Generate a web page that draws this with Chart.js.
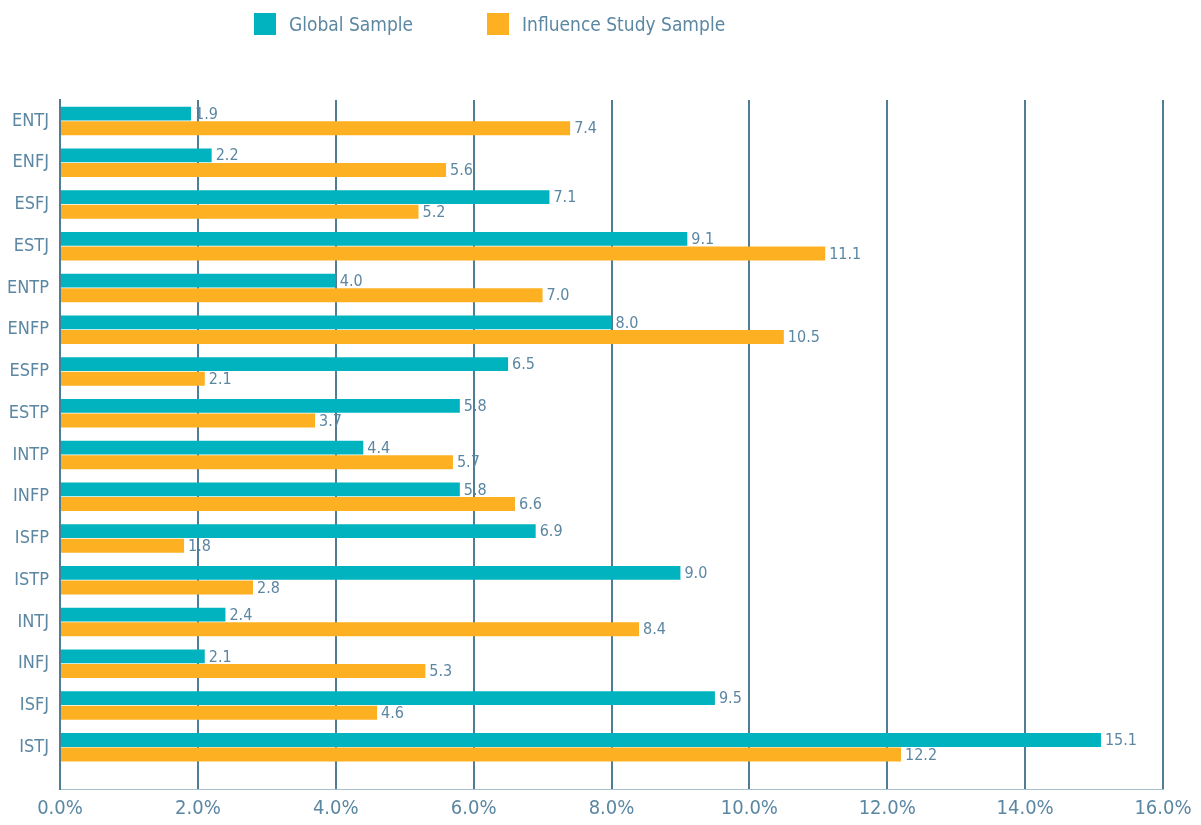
<!DOCTYPE html>
<html>
<head>
<meta charset="utf-8">
<script src="https://cdn.jsdelivr.net/npm/chart.js@4.4.1/dist/chart.umd.min.js"></script>
<style>
  body { margin: 0; background: #fff; }
  #wrap { position: relative; width: 1201px; height: 825px; }
  #legend { position: absolute; top: 13px; left: 254px; display: flex; align-items: center;
            font-family: 'Liberation Sans Narrow', 'DejaVu Sans Condensed', sans-serif; font-size: 19px; color: #5b87a3; }
  .item { display: flex; align-items: center; margin-right: 74px; }
  .box { width: 22px; height: 22px; margin-right: 13px; }
</style>
</head>
<body>
<div id="wrap">
  <canvas id="chart" width="1201" height="825"></canvas>
  <div id="legend"></div>
</div>
<script>
// Personality types, top to bottom
const types = ['ENTJ', 'ENFJ', 'ESFJ', 'ESTJ', 'ENTP', 'ENFP', 'ESFP', 'ESTP',
               'INTP', 'INFP', 'ISFP', 'ISTP', 'INTJ', 'INFJ', 'ISFJ', 'ISTJ'];
const globalSample = [1.9, 2.2, 7.1, 9.1, 4.0, 8.0, 6.5, 5.8, 4.4, 5.8, 6.9, 9.0, 2.4, 2.1, 9.5, 15.1];
const influenceSample = [7.4, 5.6, 5.2, 11.1, 7.0, 10.5, 2.1, 3.7, 5.7, 6.6, 1.8, 2.8, 8.4, 5.3, 4.6, 12.2];
const xTicks = [0, 2, 4, 6, 8, 10, 12, 14, 16];

const FONT = "'Liberation Sans Narrow', 'DejaVu Sans Condensed', sans-serif";
const TEXT = '#5b87a3';
const LINE = '#4f7d95';

const seriesInfo = [
  { label: 'Global Sample', values: globalSample, color: '#00b3be' },
  { label: 'Influence Study Sample', values: influenceSample, color: '#fdb022' }
];

// html legend
const legendEl = document.getElementById('legend');
seriesInfo.forEach(s => {
  const item = document.createElement('div');
  item.className = 'item';
  item.innerHTML = '<div class="box" style="background:' + s.color + '"></div><span>' + s.label + '</span>';
  legendEl.appendChild(item);
});

// draw the value next to the end of each bar
const valueLabels = {
  id: 'valueLabels',
  afterDatasetsDraw(chart) {
    const ctx = chart.ctx;
    ctx.save();
    ctx.font = '16px ' + FONT;
    ctx.fillStyle = TEXT;
    ctx.textBaseline = 'middle';
    ctx.textAlign = 'left';
    chart.data.datasets.forEach((ds, i) => {
      chart.getDatasetMeta(i).data.forEach((bar, j) => {
        ctx.fillText(seriesInfo[i].values[j].toFixed(1), bar.x + 4, bar.y + 1);
      });
    });
    ctx.restore();
  }
};

new Chart(document.getElementById('chart'), {
  type: 'bar',
  data: {
    datasets: seriesInfo.map(s => ({
      label: s.label,
      data: s.values.map((v, i) => ({ x: v, y: i })),
      backgroundColor: s.color,
      categoryPercentage: 0.7,
      barPercentage: 0.95
    }))
  },
  options: {
    indexAxis: 'y',
    responsive: false,
    animation: false,
    layout: { padding: { top: 100, right: 38, left: 0, bottom: 0 } },
    plugins: { legend: { display: false }, tooltip: { enabled: false } },
    scales: {
      x: {
        min: 0,
        max: 16,
        afterBuildTicks: scale => { scale.ticks = xTicks.map(v => ({ value: v })); },
        ticks: {
          color: TEXT,
          font: { family: FONT, size: 20 },
          padding: 8,
          callback: v => v.toFixed(1) + '%'
        },
        grid: { color: LINE, lineWidth: 2, drawTicks: false },
        border: { display: true, color: '#a9bfcc', width: 1 },
        afterFit: scale => { scale.height = 36; }
      },
      y: {
        type: 'linear',
        reverse: true,
        offset: false,
        bounds: 'data',
        min: -0.5,
        max: 16,
        afterBuildTicks: scale => { scale.ticks = types.map((t, i) => ({ value: i })); },
        ticks: {
          color: TEXT,
          font: { family: FONT, size: 18 },
          padding: 3,
          autoSkip: false,
          callback: v => types[v]
        },
        grid: { display: false, offset: false },
        border: { display: true, color: LINE, width: 2 },
        afterFit: scale => { scale.width = 60; }
      }
    }
  },
  plugins: [valueLabels]
});
</script>
</body>
</html>
